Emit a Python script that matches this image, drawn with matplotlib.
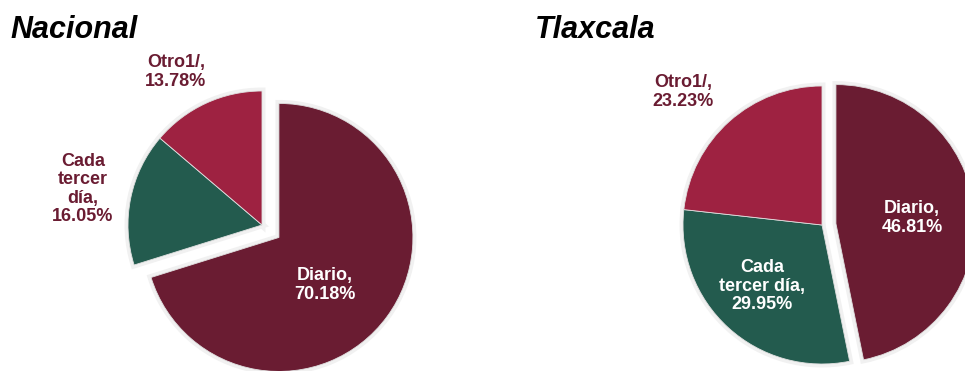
import matplotlib.pyplot as plt

plt.rcParams['font.family'] = ['Liberation Sans', 'DejaVu Sans']

categorias = ['Diario', 'Cada tercer día', 'Otro1/']
nacional = [70.18, 16.05, 13.78]
tlaxcala = [46.81, 29.95, 23.23]

etiquetas_nacional = ['Diario', 'Cada\ntercer\ndía', 'Otro1/']
etiquetas_tlaxcala = ['Diario', 'Cada\ntercer día', 'Otro1/']

colores = ['#6a1c32', '#235b4e', '#9e2241']
color_texto = '#6a1c32'

fig = plt.figure(figsize=(9.65, 3.71), dpi=100)
ax = fig.add_axes([0, 0, 1, 1])
ax.set_axis_off()


def dibujar_pie(ax, valores, centro, radio, explode):
    # halo gris suave detras de las rebanadas
    ax.pie(valores, colors=['#f1f1f1'] * 3, startangle=90, counterclock=False,
           center=centro, radius=radio, explode=[explode, 0, 0],
           wedgeprops=dict(edgecolor='#f1f1f1', linewidth=5, zorder=1))
    wedges, _ = ax.pie(valores, colors=colores, startangle=90, counterclock=False,
                       center=centro, radius=radio, explode=[explode, 0, 0],
                       wedgeprops=dict(edgecolor='#e0e0e0', linewidth=0.6, zorder=2))
    return wedges


def etiqueta(ax, texto, valor, x, y, blanco):
    ax.text(x, 371 - y, f"{texto},\n{valor:.2f}%", ha='center', va='center',
            fontsize=13, fontweight='bold', linespacing=1.1, zorder=5,
            color='white' if blanco else color_texto)


# Nacional
dibujar_pie(ax, nacional, (262, 146), 134, 21)
etiqueta(ax, etiquetas_nacional[0], nacional[0], 325, 285, True)
etiqueta(ax, etiquetas_nacional[1], nacional[1], 83, 189, False)
etiqueta(ax, etiquetas_nacional[2], nacional[2], 176, 72, False)

# Tlaxcala
dibujar_pie(ax, tlaxcala, (822, 146), 139, 14)
etiqueta(ax, etiquetas_tlaxcala[0], tlaxcala[0], 912, 218, True)
etiqueta(ax, etiquetas_tlaxcala[1], tlaxcala[1], 762, 286, True)
etiqueta(ax, etiquetas_tlaxcala[2], tlaxcala[2], 683, 92, False)

ax.text(10, 371 - 38, 'Nacional', fontsize=22, fontweight='bold', fontstyle='italic',
        ha='left', va='baseline')
ax.text(535, 371 - 38, 'Tlaxcala', fontsize=22, fontweight='bold', fontstyle='italic',
        ha='left', va='baseline')

ax.set_xlim(0, 965)
ax.set_ylim(0, 371)
ax.set_aspect('equal')

plt.savefig('out.png', dpi=100)
